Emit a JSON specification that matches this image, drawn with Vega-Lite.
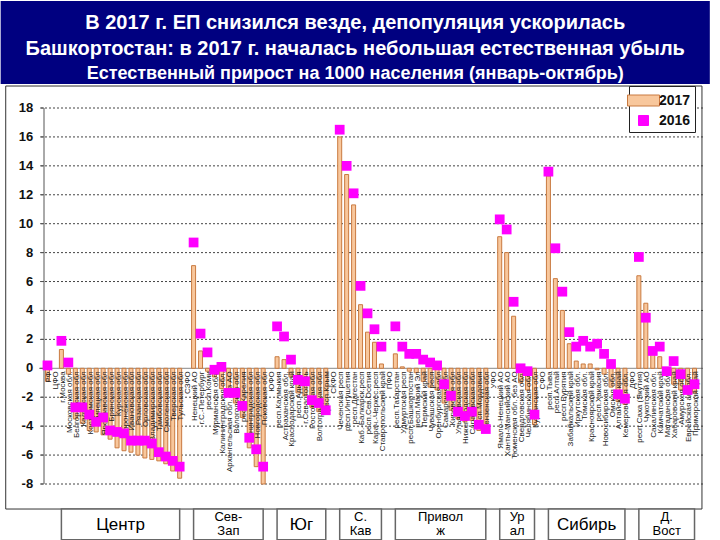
{
  "$schema": "https://vega.github.io/schema/vega-lite/v6.json",
  "padding": 0,
  "background": "white",
  "width": 664,
  "height": 376,
  "config": {
    "view": {"stroke": null},
    "axisX": {"disable": true},
    "axisY": {"disable": true}
  },
  "datasets": {
    "ticks": [{"t":-8},{"t":-6},{"t":-4},{"t":-2},{"t":0},{"t":2},{"t":4},{"t":6},{"t":8},{"t":10},{"t":12},{"t":14},{"t":16},{"t":18}],
    "regions": [
      {"n":0,"name":"РФ","grp":null,"v17":-0.9,"v16":0.2},
      {"n":1,"name":"ЦФО","grp":null,"v17":null,"v16":null},
      {"n":2,"name":"г.Москва","grp":"Центр","v17":1.3,"v16":1.9},
      {"n":3,"name":"Московская обл.","grp":"Центр","v17":-0.4,"v16":0.4},
      {"n":4,"name":"Белгородская обл","grp":"Центр","v17":-3.5,"v16":-2.7},
      {"n":5,"name":"Калужская обл","grp":"Центр","v17":-3.8,"v16":-2.7},
      {"n":6,"name":"Костромская обл","grp":"Центр","v17":-4.3,"v16":-3.2},
      {"n":7,"name":"Липецкая обл","grp":"Центр","v17":-4.4,"v16":-3.7},
      {"n":8,"name":"Ярославская обл","grp":"Центр","v17":-4.6,"v16":-3.4},
      {"n":9,"name":"Брянская обл","grp":"Центр","v17":-4.9,"v16":-4.3},
      {"n":10,"name":"Курская обл","grp":"Центр","v17":-5.5,"v16":-4.4},
      {"n":11,"name":"Воронежская обл","grp":"Центр","v17":-5.7,"v16":-4.5},
      {"n":12,"name":"Ивановская обл","grp":"Центр","v17":-5.8,"v16":-5.0},
      {"n":13,"name":"Рязанская обл","grp":"Центр","v17":-6.0,"v16":-5.0},
      {"n":14,"name":"Орловская обл","grp":"Центр","v17":-6.2,"v16":-5.0},
      {"n":15,"name":"Владимирская обл","grp":"Центр","v17":-6.3,"v16":-5.2},
      {"n":16,"name":"Тамбовская обл","grp":"Центр","v17":-6.4,"v16":-5.8},
      {"n":17,"name":"Смоленская обл","grp":"Центр","v17":-6.6,"v16":-6.1},
      {"n":18,"name":"Тверская обл","grp":"Центр","v17":-7.1,"v16":-6.4},
      {"n":19,"name":"Тульская обл","grp":"Центр","v17":-7.6,"v16":-6.8},
      {"n":20,"name":"СЗФО","grp":null,"v17":null,"v16":null},
      {"n":21,"name":"Ненецкий АО","grp":"Сев-\nЗап","v17":7.1,"v16":8.7},
      {"n":22,"name":"г.С.-Петербург","grp":"Сев-\nЗап","v17":1.2,"v16":2.4},
      {"n":23,"name":"респ.Коми","grp":"Сев-\nЗап","v17":-0.2,"v16":1.1},
      {"n":24,"name":"Мурманская обл.","grp":"Сев-\nЗап","v17":-0.6,"v16":-0.1},
      {"n":25,"name":"Калининградская обл.","grp":"Сев-\nЗап","v17":-1.4,"v16":0.1},
      {"n":26,"name":"Архангельская обл. без АО","grp":"Сев-\nЗап","v17":-1.9,"v16":-1.7},
      {"n":27,"name":"Вологодская обл","grp":"Сев-\nЗап","v17":-2.4,"v16":-1.7},
      {"n":28,"name":"респ.Карелия","grp":"Сев-\nЗап","v17":-3.4,"v16":-2.6},
      {"n":29,"name":"Ленинградская обл","grp":"Сев-\nЗап","v17":-5.5,"v16":-4.8},
      {"n":30,"name":"Новгородская обл","grp":"Сев-\nЗап","v17":-6.8,"v16":-5.6},
      {"n":31,"name":"Псковская обл","grp":"Сев-\nЗап","v17":-8.0,"v16":-6.8},
      {"n":32,"name":"ЮФО","grp":null,"v17":null,"v16":null},
      {"n":33,"name":"респ.Калмыкия","grp":"Юг","v17":0.8,"v16":2.9},
      {"n":34,"name":"Астраханская обл.","grp":"Юг","v17":0.6,"v16":2.2},
      {"n":35,"name":"Краснодарский край","grp":"Юг","v17":-0.6,"v16":0.6},
      {"n":36,"name":"респ.Адыгея","grp":"Юг","v17":-1.7,"v16":-0.8},
      {"n":37,"name":"г.Севастополь","grp":"Юг","v17":-1.9,"v16":-0.9},
      {"n":38,"name":"Ростовская обл","grp":"Юг","v17":-2.7,"v16":-2.2},
      {"n":39,"name":"Волгоградская обл","grp":"Юг","v17":-3.0,"v16":-2.4},
      {"n":40,"name":"респ.Крым","grp":"Юг","v17":-3.0,"v16":-2.9},
      {"n":41,"name":"СКФО","grp":null,"v17":null,"v16":null},
      {"n":42,"name":"Чеченская респ","grp":"С.\nКав","v17":16.0,"v16":16.5},
      {"n":43,"name":"респ.Ингушетия","grp":"С.\nКав","v17":13.4,"v16":14.0},
      {"n":44,"name":"респ.Дагестан","grp":"С.\nКав","v17":11.3,"v16":12.1},
      {"n":45,"name":"Каб.-Балкарск.респ","grp":"С.\nКав","v17":4.4,"v16":5.7},
      {"n":46,"name":"респ.Сев.Осетия","grp":"С.\nКав","v17":2.5,"v16":3.8},
      {"n":47,"name":"Карач.-Черкес.респ","grp":"С.\nКав","v17":1.8,"v16":2.7},
      {"n":48,"name":"Ставропольский край","grp":"С.\nКав","v17":0.3,"v16":1.5},
      {"n":49,"name":"ПФО","grp":null,"v17":null,"v16":null},
      {"n":50,"name":"респ.Татарстан","grp":"Привол\nж","v17":1.0,"v16":2.9},
      {"n":51,"name":"Удмуртская респ","grp":"Привол\nж","v17":0.1,"v16":1.5},
      {"n":52,"name":"респ.Башкортостан","grp":"Привол\nж","v17":-0.2,"v16":1.0},
      {"n":53,"name":"респ.Марий Эл","grp":"Привол\nж","v17":-0.3,"v16":1.0},
      {"n":54,"name":"Пермский край","grp":"Привол\nж","v17":-0.9,"v16":0.6},
      {"n":55,"name":"Чувашская респ","grp":"Привол\nж","v17":-1.3,"v16":0.4},
      {"n":56,"name":"Оренбургская обл","grp":"Привол\nж","v17":-1.5,"v16":0.2},
      {"n":57,"name":"Самарская обл","grp":"Привол\nж","v17":-2.4,"v16":-1.1},
      {"n":58,"name":"Кировская обл","grp":"Привол\nж","v17":-2.9,"v16":-1.9},
      {"n":59,"name":"Ульяновская обл","grp":"Привол\nж","v17":-3.5,"v16":-3.0},
      {"n":60,"name":"Нижегородская обл","grp":"Привол\nж","v17":-3.7,"v16":-3.3},
      {"n":61,"name":"Саратовская обл","grp":"Привол\nж","v17":-3.6,"v16":-3.0},
      {"n":62,"name":"респ.Мордовия","grp":"Привол\nж","v17":-4.3,"v16":-3.9},
      {"n":63,"name":"Пензенская обл","grp":"Привол\nж","v17":-4.4,"v16":-4.2},
      {"n":64,"name":"УФО","grp":null,"v17":null,"v16":null},
      {"n":65,"name":"Ямало-Ненецкий АО","grp":"Ур\nал","v17":9.1,"v16":10.3},
      {"n":66,"name":"Ханты-Мансийский АО","grp":"Ур\nал","v17":8.0,"v16":9.6},
      {"n":67,"name":"Тюменская обл. без АО","grp":"Ур\nал","v17":3.6,"v16":4.6},
      {"n":68,"name":"Свердловская обл.","grp":"Ур\nал","v17":-1.0,"v16":0.0},
      {"n":69,"name":"Челябинская обл.","grp":"Ур\nал","v17":-1.5,"v16":-0.2},
      {"n":70,"name":"Курганская обл","grp":"Ур\nал","v17":-3.9,"v16":-3.2},
      {"n":71,"name":"СФО","grp":null,"v17":null,"v16":null},
      {"n":72,"name":"респ.Тыва","grp":"Сибирь","v17":13.3,"v16":13.6},
      {"n":73,"name":"респ.Алтай","grp":"Сибирь","v17":6.2,"v16":8.3},
      {"n":74,"name":"респ.Бурятия","grp":"Сибирь","v17":4.0,"v16":5.3},
      {"n":75,"name":"Забайкальский край","grp":"Сибирь","v17":1.7,"v16":2.5},
      {"n":76,"name":"Иркутская обл.","grp":"Сибирь","v17":0.5,"v16":1.5},
      {"n":77,"name":"Томская обл.","grp":"Сибирь","v17":0.3,"v16":1.9},
      {"n":78,"name":"Красноярский край","grp":"Сибирь","v17":0.3,"v16":1.5},
      {"n":79,"name":"респ.Хакасия","grp":"Сибирь","v17":-0.1,"v16":1.7},
      {"n":80,"name":"Новосибирская обл.","grp":"Сибирь","v17":-0.4,"v16":1.0},
      {"n":81,"name":"Омская обл.","grp":"Сибирь","v17":-1.3,"v16":0.3},
      {"n":82,"name":"Алтайский край","grp":"Сибирь","v17":-2.3,"v16":-1.8},
      {"n":83,"name":"Кемеровская обл.","grp":"Сибирь","v17":-2.5,"v16":-2.1},
      {"n":84,"name":"ДФО","grp":null,"v17":null,"v16":null},
      {"n":85,"name":"респ.Саха (Якутия)","grp":"Д.\nВост","v17":6.4,"v16":7.7},
      {"n":86,"name":"Чукотский АО","grp":"Д.\nВост","v17":4.5,"v16":3.5},
      {"n":87,"name":"Сахалинская обл.","grp":"Д.\nВост","v17":1.0,"v16":1.2},
      {"n":88,"name":"Камчатский край","grp":"Д.\nВост","v17":0.8,"v16":1.5},
      {"n":89,"name":"Магаданская обл.","grp":"Д.\nВост","v17":-0.1,"v16":-0.2},
      {"n":90,"name":"Хабаровский край","grp":"Д.\nВост","v17":-1.1,"v16":0.5},
      {"n":91,"name":"Амурская обл.","grp":"Д.\nВост","v17":-1.5,"v16":-0.4},
      {"n":92,"name":"Еврейская авт.обл.","grp":"Д.\nВост","v17":-1.7,"v16":-1.5},
      {"n":93,"name":"Приморский край","grp":"Д.\nВост","v17":-1.7,"v16":-1.1}
    ]
  },
  "layer": [
    {
      "data": {"name": "ticks"},
      "transform": [{"filter": "datum.t != 0"}],
      "mark": {"type": "rule", "color": "#444444", "strokeWidth": 1, "strokeDash": [2, 2]},
      "encoding": {
        "y": {"field": "t", "type": "quantitative", "scale": {"domain": [-8, 18], "nice": false}, "axis": null}
      }
    },
    {
      "data": {"values": [{}]},
      "mark": {"type": "rule", "color": "#888888", "strokeWidth": 1},
      "encoding": {
        "y": {"datum": 0, "scale": {"domain": [-8, 18], "nice": false}, "axis": null}
      }
    },
    {
      "data": {"name": "ticks"},
      "mark": {"type": "rule", "color": "#555555", "strokeWidth": 1},
      "encoding": {
        "x": {"datum": -1.066, "scale": {"domain": [-0.5, 93.5]}, "axis": null},
        "x2": {"datum": -0.5},
        "y": {"field": "t", "type": "quantitative", "scale": {"domain": [-8, 18], "nice": false}, "axis": null}
      }
    },
    {
      "data": {"values": [{}]},
      "mark": {"type": "rule", "color": "#555555", "strokeWidth": 1},
      "encoding": {
        "x": {"datum": -0.5, "scale": {"domain": [-0.5, 93.5]}, "axis": null},
        "y": {"datum": -8, "scale": {"domain": [-8, 18], "nice": false}, "axis": null},
        "y2": {"datum": 18}
      }
    },
    {
      "data": {"name": "ticks"},
      "mark": {"type": "text", "align": "right", "baseline": "middle", "font": "Liberation Sans", "fontSize": 13, "fontWeight": "bold", "color": "#111111"},
      "encoding": {
        "x": {"datum": -2.057, "scale": {"domain": [-0.5, 93.5]}, "axis": null},
        "y": {"field": "t", "type": "quantitative", "scale": {"domain": [-8, 18], "nice": false}, "axis": null},
        "text": {"field": "t", "type": "nominal"}
      }
    },
    {
      "data": {"name": "regions"},
      "mark": {"type": "bar", "width": 4, "fill": "#f8c79c", "stroke": "#c97a40", "strokeWidth": 1},
      "encoding": {
        "x": {"field": "n", "type": "quantitative", "scale": {"domain": [-0.5, 93.5]}, "axis": null},
        "y": {"field": "v17", "type": "quantitative", "scale": {"domain": [-8, 18], "nice": false}, "axis": null}
      }
    },
    {
      "data": {"name": "regions"},
      "mark": {"type": "text", "angle": 270, "align": "right", "baseline": "middle", "fontSize": 8, "font": "Liberation Sans", "color": "#222222", "dx": -3, "dy": 1.5},
      "encoding": {
        "x": {"field": "n", "type": "quantitative", "scale": {"domain": [-0.5, 93.5]}, "axis": null},
        "y": {"datum": 0, "scale": {"domain": [-8, 18], "nice": false}, "axis": null},
        "text": {"field": "name"}
      }
    },
    {
      "data": {"name": "regions"},
      "mark": {"type": "point", "shape": "square", "filled": true, "size": 95, "color": "#ff00ff", "opacity": 1},
      "encoding": {
        "x": {"field": "n", "type": "quantitative", "scale": {"domain": [-0.5, 93.5]}, "axis": null},
        "y": {"field": "v16", "type": "quantitative", "scale": {"domain": [-8, 18], "nice": false}, "axis": null}
      }
    },
    {
      "data": {"values": [{}]},
      "mark": {"type": "rect", "filled": false, "stroke": "#333333", "strokeWidth": 1},
      "encoding": {
        "x": {"datum": -6.0, "scale": {"domain": [-0.5, 93.5]}, "axis": null},
        "x2": {"datum": 94.07},
        "y": {"datum": 19.52, "scale": {"domain": [-8, 18], "nice": false}, "axis": null},
        "y2": {"datum": -9.73}
      }
    },
    {
      "data": {"values": [{}]},
      "mark": {"type": "rect", "fill": "#000080", "stroke": null},
      "encoding": {
        "x": {"datum": -6.729, "scale": {"domain": [-0.5, 93.5]}, "axis": null},
        "x2": {"datum": 95.2},
        "y": {"datum": 25.399, "scale": {"domain": [-8, 18], "nice": false}, "axis": null},
        "y2": {"datum": 19.66}
      }
    },
    {
      "data": {"values": [{"t": "В 2017 г. ЕП снизился везде, депопуляция ускорилась"}]},
      "mark": {"type": "text", "font": "Liberation Sans", "fontWeight": "bold", "fontSize": 20, "color": "white", "align": "center", "baseline": "middle"},
      "encoding": {
        "x": {"datum": 44.235, "scale": {"domain": [-0.5, 93.5]}, "axis": null},
        "y": {"datum": 23.878, "scale": {"domain": [-8, 18], "nice": false}, "axis": null},
        "text": {"field": "t"}
      }
    },
    {
      "data": {"values": [{"t": "Башкортостан: в 2017 г. началась небольшая естественная убыль"}]},
      "mark": {"type": "text", "font": "Liberation Sans", "fontWeight": "bold", "fontSize": 20, "color": "white", "align": "center", "baseline": "middle"},
      "encoding": {
        "x": {"datum": 44.235, "scale": {"domain": [-0.5, 93.5]}, "axis": null},
        "y": {"datum": 22.114, "scale": {"domain": [-8, 18], "nice": false}, "axis": null},
        "text": {"field": "t"}
      }
    },
    {
      "data": {"values": [{"t": "Естественный прирост на 1000 населения (январь-октябрь)"}]},
      "mark": {"type": "text", "font": "Liberation Sans", "fontWeight": "bold", "fontSize": 18, "color": "white", "align": "center", "baseline": "middle"},
      "encoding": {
        "x": {"datum": 44.235, "scale": {"domain": [-0.5, 93.5]}, "axis": null},
        "y": {"datum": 20.351, "scale": {"domain": [-8, 18], "nice": false}, "axis": null},
        "text": {"field": "t"}
      }
    },
    {
      "data": {"name": "regions"},
      "transform": [
        {"filter": "datum.grp != null"},
        {"aggregate": [{"op": "min", "field": "n", "as": "lo"}, {"op": "max", "field": "n", "as": "hi"}], "groupby": ["grp"]}
      ],
      "mark": {"type": "rect", "fill": "white", "stroke": "#666666", "strokeWidth": 1.5},
      "encoding": {
        "x": {"field": "lo", "type": "quantitative", "scale": {"domain": [-0.5, 93.5]}, "axis": null},
        "x2": {"field": "hi"},
        "y": {"datum": -9.73, "scale": {"domain": [-8, 18], "nice": false}, "axis": null},
        "y2": {"datum": -11.85}
      }
    },
    {
      "data": {"name": "regions"},
      "transform": [
        {"filter": {"field": "grp", "oneOf": ["Центр", "Юг", "Сибирь"]}},
        {"aggregate": [{"op": "mean", "field": "n", "as": "mid"}], "groupby": ["grp"]}
      ],
      "mark": {"type": "text", "font": "Liberation Sans", "fontSize": 17, "color": "black", "align": "center", "baseline": "middle"},
      "encoding": {
        "x": {"field": "mid", "type": "quantitative", "scale": {"domain": [-0.5, 93.5]}, "axis": null},
        "y": {"datum": -10.835, "scale": {"domain": [-8, 18], "nice": false}, "axis": null},
        "text": {"field": "grp"}
      }
    },
    {
      "data": {"name": "regions"},
      "transform": [
        {"filter": {"field": "grp", "oneOf": ["Сев-\nЗап", "С.\nКав", "Привол\nж", "Ур\nал", "Д.\nВост"]}},
        {"aggregate": [{"op": "mean", "field": "n", "as": "mid"}], "groupby": ["grp"]}
      ],
      "mark": {"type": "text", "font": "Liberation Sans", "fontSize": 13, "color": "black", "align": "center", "baseline": "top", "lineBreak": "\n", "lineHeight": 14},
      "encoding": {
        "x": {"field": "mid", "type": "quantitative", "scale": {"domain": [-0.5, 93.5]}, "axis": null},
        "y": {"datum": -9.867, "scale": {"domain": [-8, 18], "nice": false}, "axis": null},
        "text": {"field": "grp"}
      }
    },
    {
      "data": {"values": [{"s": "2017"}, {"s": "2016"}]},
      "mark": {"type": "point", "filled": true, "opacity": 0, "size": 400},
      "encoding": {
        "color": {"field": "s", "type": "nominal", "scale": {"domain": ["2017", "2016"], "range": ["#f8c79c", "#ff00ff"]},
                  "legend": {"orient": "none", "legendX": 590, "legendY": -22, "title": null, "fillColor": "white", "strokeColor": "#222222",
                             "padding": 4, "symbolSize": 400, "symbolOpacity": 1, "symbolStrokeWidth": 1, "labelFont": "Liberation Sans",
                             "labelFontSize": 14, "labelFontWeight": "bold", "labelColor": "#111111", "rowPadding": 2, "labelOffset": 5}},
        "shape": {"field": "s", "type": "nominal", "scale": {"domain": ["2017", "2016"], "range": ["M-1.6,-0.55H1.6V0.55H-1.6Z", "M-0.5,-0.5H0.5V0.5H-0.5Z"]},
                  "legend": {"orient": "none", "legendX": 590, "legendY": -22, "title": null, "fillColor": "white", "strokeColor": "#222222",
                             "padding": 4, "symbolSize": 400, "symbolOpacity": 1, "symbolStrokeWidth": 1, "labelFont": "Liberation Sans",
                             "labelFontSize": 14, "labelFontWeight": "bold", "labelColor": "#111111", "rowPadding": 2, "labelOffset": 5}},
        "stroke": {"field": "s", "type": "nominal", "scale": {"domain": ["2017", "2016"], "range": ["#c97a40", "#ff00ff"]},
                  "legend": {"orient": "none", "legendX": 590, "legendY": -22, "title": null, "fillColor": "white", "strokeColor": "#222222",
                             "padding": 4, "symbolSize": 400, "symbolOpacity": 1, "symbolStrokeWidth": 1, "labelFont": "Liberation Sans",
                             "labelFontSize": 14, "labelFontWeight": "bold", "labelColor": "#111111", "rowPadding": 2, "labelOffset": 5}}
      }
    }
  ]
}
